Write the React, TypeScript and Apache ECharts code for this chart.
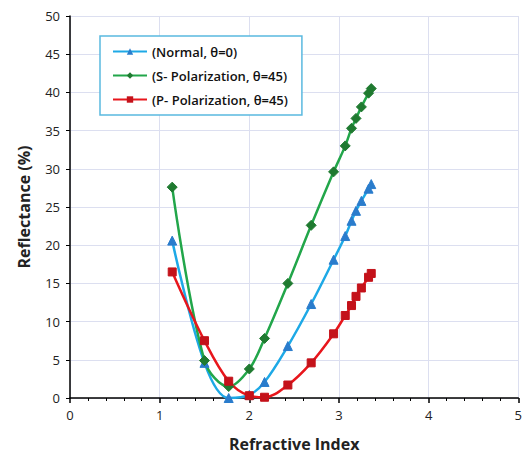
import React, { useEffect, useRef } from "react";
import * as echarts from "echarts";

const refractiveIndex = [1.14, 1.5, 1.77, 2.0, 2.17, 2.43, 2.69, 2.94, 3.07, 3.14, 3.19, 3.25, 3.33, 3.36];
const normalValues = [20.6, 4.6, 0.0, 0.4, 2.1, 6.8, 12.3, 18.1, 21.2, 23.2, 24.5, 25.8, 27.4, 28.0];
const sPolValues = [27.6, 4.9, 1.5, 3.8, 7.8, 15.0, 22.6, 29.6, 33.0, 35.3, 36.6, 38.1, 39.9, 40.5];
const pPolValues = [16.5, 7.5, 2.2, 0.3, 0.1, 1.7, 4.6, 8.4, 10.8, 12.1, 13.3, 14.4, 15.8, 16.3];
const seriesNames = ["(Normal, θ=0)", "(S- Polarization, θ=45)", "(P- Polarization, θ=45)"];

const pairs = (ys: number[]) => refractiveIndex.map((x, i) => [x, ys[i]]);

export default function App() {
  const ref = useRef<HTMLDivElement>(null);
  useEffect(() => {
    if (!ref.current) return;
    const chart = echarts.init(ref.current, undefined, { renderer: "svg" });
    const font = "'Open Sans', 'Noto Sans', sans-serif";
    const mk = (name: string, data: number[], line: string, mark: string, symbol: string, size: number) => ({
      name,
      type: "line",
      data: pairs(data),
      smooth: 0.35,
      symbol,
      symbolSize: size,
      lineStyle: { color: line, width: 2.5 },
      itemStyle: { color: mark, borderColor: mark },
      emphasis: { disabled: true },
    });
    chart.setOption({
      animation: false,
      backgroundColor: "#fff",
      grid: { left: 70, right: 5, top: 16, bottom: 61 },
      legend: {
        orient: "vertical",
        left: 100,
        top: 36,
        padding: [9, 14, 9, 12],
        itemGap: 11,
        itemWidth: 34,
        itemHeight: 8,
        borderColor: "#5ab9e0",
        borderWidth: 1.5,
        backgroundColor: "#fff",
        textStyle: { fontFamily: font, fontSize: 13, fontWeight: 600, color: "#111" },
        data: seriesNames,
      },
      xAxis: {
        type: "value",
        min: 0,
        max: 5,
        interval: 1,
        name: "Refractive Index",
        nameLocation: "middle",
        nameGap: 38,
        nameTextStyle: { fontFamily: font, fontSize: 16, fontWeight: "bold", color: "#222" },
        axisLine: { show: true, onZero: false, lineStyle: { color: "#000", width: 1.5 } },
        axisTick: { show: true, inside: false, length: 5, lineStyle: { color: "#000", width: 1.5 } },
        minorTick: { show: true, splitNumber: 5, length: 3, lineStyle: { color: "#000" } },
        axisLabel: { fontFamily: font, fontSize: 13, color: "#222", margin: 10 },
        splitLine: { show: true, lineStyle: { color: "#dcdff0", width: 1 } },
      },
      yAxis: {
        type: "value",
        min: 0,
        max: 50,
        interval: 5,
        name: "Reflectance (%)",
        nameLocation: "middle",
        nameGap: 38,
        nameTextStyle: { fontFamily: font, fontSize: 16, fontWeight: "bold", color: "#222" },
        axisLine: { show: true, lineStyle: { color: "#000", width: 1.5 } },
        axisTick: { show: true, inside: false, length: 4, lineStyle: { color: "#000" } },
        axisLabel: { fontFamily: font, fontSize: 13, color: "#222", margin: 10 },
        splitLine: { show: true, lineStyle: { color: "#dcdff0", width: 1 } },
      },
      series: [
        mk(seriesNames[0], normalValues, "#1ea9e6", "#2a7ccc", "triangle", 9),
        mk(seriesNames[1], sPolValues, "#22a64a", "#1f7a30", "diamond", 10),
        mk(seriesNames[2], pPolValues, "#e8161c", "#c4121a", "rect", 8),
      ],
    });
    return () => chart.dispose();
  }, []);
  return <div ref={ref} style={{ position: "absolute", left: 0, top: 0, width: 525, height: 459 }} />;
}
